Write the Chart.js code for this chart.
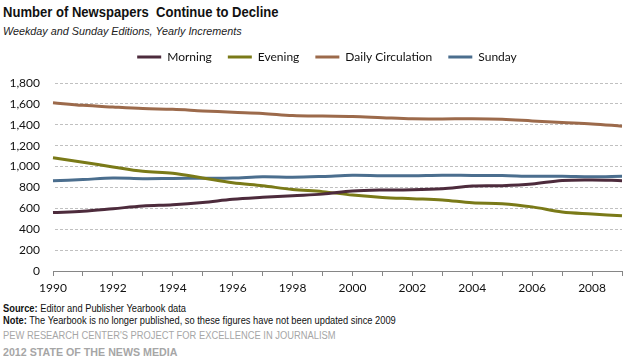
<!DOCTYPE html>
<html>
<head>
<meta charset="utf-8">
<script src="https://cdn.jsdelivr.net/npm/chart.js@4.4.1/dist/chart.umd.min.js"></script>
<style>
  html, body { margin: 0; padding: 0; background: #fff; width: 631px; height: 363px; overflow: hidden; }
  .t { position: absolute; left: 3px; white-space: nowrap; transform-origin: 0 0; }
  #title { top: 3px; font: bold 15px "Liberation Sans", sans-serif; color: #111; transform: scaleX(0.87); }
  #sub { top: 25px; font: italic 11px "Liberation Sans", sans-serif; color: #222; transform: scaleX(0.98); }
  #src { top: 303px; font: 10px "Liberation Sans", sans-serif; color: #111; transform: scaleX(0.93); }
  #note { top: 315px; font: 10px "Liberation Sans", sans-serif; color: #111; transform: scaleX(0.93); }
  #pew { top: 330px; font: 10px "Liberation Sans", sans-serif; color: #a6a6a6; transform: scaleX(0.935); }
  #sotm { top: 346px; font: bold 11px "Liberation Sans", sans-serif; color: #a6a6a6; transform: scaleX(0.97); }
  #wrap { position: absolute; left: 0; top: 35px; width: 631px; height: 266px; }
</style>
</head>
<body>
<div class="t" id="title">Number of Newspapers&nbsp; Continue to Decline</div>
<div class="t" id="sub">Weekday and Sunday Editions, Yearly Increments</div>
<div id="wrap"><canvas id="c" width="631" height="266"></canvas></div>
<div class="t" id="src"><b>Source:</b> Editor and Publisher Yearbook data</div>
<div class="t" id="note"><b>Note:</b> The Yearbook is no longer published, so these figures have not been updated since 2009</div>
<div class="t" id="pew">PEW RESEARCH CENTER'S PROJECT FOR EXCELLENCE IN JOURNALISM</div>
<div class="t" id="sotm">2012 STATE OF THE NEWS MEDIA</div>
<script>
const years = ['1990','1991','1992','1993','1994','1995','1996','1997','1998','1999','2000','2001','2002','2003','2004','2005','2006','2007','2008','2009'];
const morning = [559,571,596,623,635,656,686,705,721,736,766,776,777,787,813,817,833,867,872,865];
const evening = [1084,1042,996,954,935,891,846,816,781,760,727,704,692,680,653,645,614,565,546,528];
const dailyCirculation = [1611,1586,1570,1556,1548,1533,1520,1509,1489,1483,1480,1468,1457,1456,1457,1452,1437,1422,1408,1387];
const sunday = [863,875,891,884,886,888,890,903,898,905,917,913,913,917,915,914,907,907,902,908];
const yTicks = [0,200,400,600,800,1000,1200,1400,1600,1800];

const F = "Lato, 'Open Sans', sans-serif";

// dashed grid colour as a repeating pattern (3px on, 2px off)
const pc = document.createElement('canvas');
pc.width = 5; pc.height = 1;
const pctx = pc.getContext('2d');
pctx.fillStyle = '#c0c0c0';
pctx.fillRect(0, 0, 3, 1);
const dashPattern = document.getElementById('c').getContext('2d').createPattern(pc, 'repeat');

function ds(label, data, color) {
  return { label, data, borderColor: color, backgroundColor: color, borderWidth: 3,
           pointRadius: 0, tension: 0.35, fill: false };
}
new Chart(document.getElementById('c'), {
  type: 'line',
  data: {
    labels: years,
    datasets: [
      ds('Morning', morning, '#4d2b3c'),
      ds('Evening', evening, '#7a7a18'),
      ds('Daily Circulation', dailyCirculation, '#9c6a4b'),
      ds('Sunday', sunday, '#4b6e8e')
    ]
  },
  options: {
    responsive: false,
    animation: false,
    events: [],
    layout: { padding: { top: 0, right: 9, left: 0, bottom: 0 } },
    plugins: {
      tooltip: { enabled: false },
      legend: {
        display: true,
        position: 'top',
        align: 'center',
        labels: {
          font: { family: F, size: 12 },
          color: '#111',
          boxWidth: 24,
          boxHeight: 3,
          padding: 16,
          generateLabels(chart) {
            return chart.data.datasets.map((d, i) => ({
              text: d.label, fillStyle: d.borderColor, strokeStyle: 'rgba(0,0,0,0)',
              lineWidth: 0, hidden: false, datasetIndex: i, fontColor: '#111'
            }));
          }
        }
      }
    },
    scales: {
      x: {
        type: 'category',
        offset: false,
        grid: { display: true, drawOnChartArea: false, drawTicks: true, tickLength: 5, color: '#868686', lineWidth: 1 },
        border: { display: true, color: '#868686', width: 1 },
        ticks: {
          autoSkip: false, maxRotation: 0, padding: 5,
          font: { family: F, size: 12 }, color: '#111',
          callback: (v, i) => (i % 2 === 0 ? years[i] : '')
        },
        afterFit(s) { s.height = 30; }
      },
      y: {
        min: 0, max: 1800,
        afterBuildTicks(s) { s.ticks = yTicks.map(v => ({ value: v })); },
        grid: { color: dashPattern, lineWidth: 1, drawTicks: false, tickLength: 0 },
        border: { display: false },
        ticks: {
          padding: 13, font: { family: F, size: 12 }, color: '#111',
          callback: v => v.toLocaleString('en-US')
        },
        afterFit(s) { s.width = 53; }
      }
    }
  },
  plugins: [{
    id: 'legendTweak',
    afterInit(chart) {
      const lg = chart.legend;
      const f = lg.fit;
      lg.fit = function() { f.call(this); this.height = 48; };
    },
    afterLayout(chart) {
      chart.legend.left += 16;
      chart.legend.right += 16;
    }
  }]
});
</script>
</body>
</html>
